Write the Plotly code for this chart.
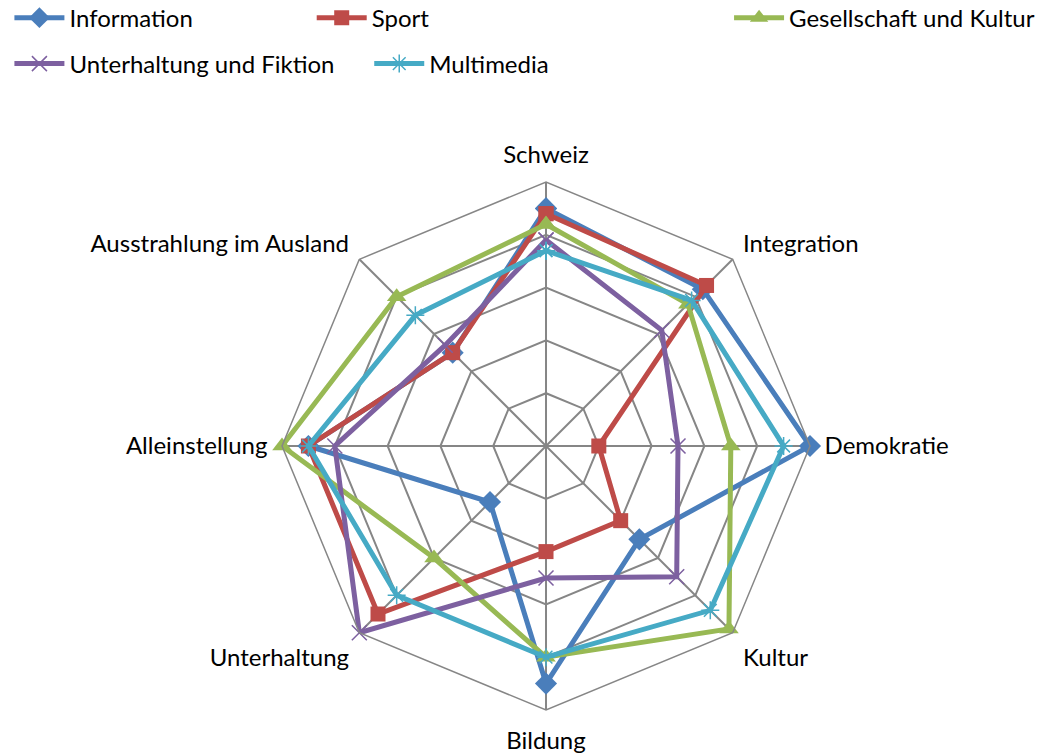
import plotly.graph_objects as go

categories = ["Schweiz", "Integration", "Demokratie", "Kultur", "Bildung",
              "Unterhaltung", "Alleinstellung", "Ausstrahlung im Ausland"]

information = [4.5, 4.2, 5.0, 2.5, 4.5, 1.5, 4.5, 2.5]
sport = [4.4, 4.3, 1.0, 2.0, 2.0, 4.5, 4.5, 2.5]
gesellschaft_kultur = [4.2, 3.8, 3.5, 4.9, 4.0, 3.0, 5.0, 4.0]
unterhaltung_fiktion = [3.9, 3.1, 2.5, 3.5, 2.5, 5.0, 4.0, 2.7]
multimedia = [3.7, 3.9, 4.5, 4.4, 4.0, 4.0, 4.5, 3.5]

series = [
    ("Information", information, "#4A7EBB",
     dict(symbol="diamond", size=17)),
    ("Sport", sport, "#BE4B48",
     dict(symbol="square", size=15)),
    ("Gesellschaft und Kultur", gesellschaft_kultur, "#98B954",
     dict(symbol="triangle-up", size=17)),
    ("Unterhaltung und Fiktion", unterhaltung_fiktion, "#7D60A0",
     dict(symbol="x-thin", size=15, line=dict(width=1.5, color="#7D60A0"))),
    ("Multimedia", multimedia, "#46AAC5",
     dict(symbol="asterisk", size=15, line=dict(width=1.5, color="#46AAC5"))),
]

# one legend per entry so the entries can sit on a loose two-row layout
legend_pos = [
    (0.009, 0.976),
    (0.298, 0.976),
    (0.697, 0.976),
    (0.009, 0.915),
    (0.353, 0.915),
]

fig = go.Figure()
for i, (name, vals, color, marker) in enumerate(series):
    fig.add_trace(go.Scatterpolar(
        r=vals + vals[:1],
        theta=categories + categories[:1],
        mode="lines+markers",
        name=name,
        showlegend=True,
        line=dict(color=color, width=5),
        marker=dict(color=color, **marker),
        legend="legend" if i == 0 else f"legend{i + 1}",
    ))

grid = "#868686"
layout = dict(
    width=1046, height=753,
    margin=dict(l=0, r=0, t=0, b=0, autoexpand=False),
    showlegend=True,
    paper_bgcolor="white",
    plot_bgcolor="white",
    font=dict(family="Lato", size=24, color="black"),
    polar=dict(
        domain=dict(x=[0.2696, 0.7744], y=[0.0571, 0.7583]),
        bgcolor="white",
        gridshape="linear",
        angularaxis=dict(
            direction="clockwise", rotation=90,
            showline=True, linecolor=grid, linewidth=1.5,
            showgrid=True, gridcolor=grid, gridwidth=1.5,
            ticks="outside", ticklen=9, tickcolor="rgba(0,0,0,0)",
            tickfont=dict(family="Lato", size=24, color="black"),
        ),
        radialaxis=dict(
            range=[0, 5], dtick=1, showticklabels=False, ticks="",
            showline=False, showgrid=True, gridcolor=grid, gridwidth=1.5,
        ),
    ),
)
for i, (x, y) in enumerate(legend_pos):
    key = "legend" if i == 0 else f"legend{i + 1}"
    layout[key] = dict(
        x=x, y=y, xanchor="left", yanchor="middle",
        orientation="h", bgcolor="rgba(0,0,0,0)", borderwidth=0,
        font=dict(family="Lato", size=24, color="black"),
        itemwidth=50, visible=True,
    )
fig.update_layout(**layout)

fig.write_html("out.html")
